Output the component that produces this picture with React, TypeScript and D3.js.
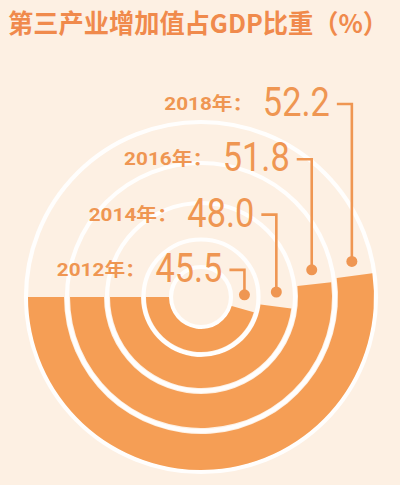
import React from 'react';
import * as d3 from 'd3';

// Share of the tertiary industry in GDP (%)
const YEARS = ['2012', '2014', '2016', '2018'];
const SHARES = [45.5, 48.0, 51.8, 52.2];
const TITLE = '第三产业增加值占GDP比重（%）';

const W = 400;
const H = 485;
const CX = 201;
const CY = 297;
// ring bands, innermost first
const RING_INNER = [32, 60, 97, 137];
const RING_OUTER = [55, 91, 131, 173];

const BG = '#FDF0E3';
const ORANGE = '#F59E55';
const TEXT = '#EF9652';
const TITLE_COLOR = '#F08A4C';

const angle = d3.scaleLinear().domain([0, 100]).range([0, 2 * Math.PI]);
const START = (3 * Math.PI) / 2; // 9 o'clock, sweeping counter-clockwise through the bottom

export default function App() {
  const arcGen = d3.arc<any>();
  const gapRadii = [
    RING_INNER[0] - 2,
    ...RING_INNER.slice(1).map((r, i) => (r + RING_OUTER[i]) / 2),
    RING_OUTER[3] + 2,
  ];

  return (
    <div style={{ position: 'fixed', left: 0, top: 0, width: W, height: H }}>
      <svg width={W} height={H} style={{ display: 'block' }}>
        <rect width={W} height={H} fill={BG} />
        <text
          x={8}
          y={33}
          fill={TITLE_COLOR}
          fontFamily="'Noto Sans CJK SC', sans-serif"
          fontWeight={700}
          fontSize={26}
          textLength={380}
          lengthAdjust="spacingAndGlyphs"
        >
          {TITLE}
        </text>

        {/* white guide circles between the rings */}
        {gapRadii.map((r, i) => (
          <circle key={i} cx={CX} cy={CY} r={r} fill="none" stroke="#FFFFFF" strokeWidth={4.2} strokeOpacity={0.92} />
        ))}

        {SHARES.map((v, i) => {
          const d = arcGen({
            innerRadius: RING_INNER[i],
            outerRadius: RING_OUTER[i],
            startAngle: START,
            endAngle: START - angle(v),
          });
          return <path key={YEARS[i]} d={d || ''} transform={`translate(${CX},${CY})`} fill={ORANGE} />;
        })}

        {SHARES.map((v, i) => {
          const rMid = (RING_INNER[i] + RING_OUTER[i]) / 2;
          const a = START - angle(v) - 14.5 / rMid;
          const dx = CX + rMid * Math.sin(a);
          const dy = CY - rMid * Math.cos(a);
          const lineY = 104 + (SHARES.length - 1 - i) * 55.3;
          const numRight = dx - 22;
          const numW = 67;
          const numLeft = numRight - numW;
          return (
            <g key={'lab' + YEARS[i]}>
              <path
                d={`M${dx - 15},${lineY} H${dx} V${dy}`}
                fill="none"
                stroke={TEXT}
                strokeWidth={2.6}
              />
              <circle cx={dx} cy={dy} r={5.5} fill={TEXT} />
              <text
                x={numLeft}
                y={lineY + 12}
                fill={TEXT}
                fontFamily="Roboto, sans-serif"
                fontWeight={400}
                fontSize={40}
                textLength={numW}
                lengthAdjust="spacingAndGlyphs"
              >
                {v.toFixed(1)}
              </text>
              <text
                x={numLeft - 9.6}
                y={lineY + 6}
                fill={TEXT}
                textAnchor="end"
                fontFamily="Roboto, 'Noto Sans CJK SC', sans-serif"
                fontWeight={700}
                fontSize={18}
                textLength={89}
                lengthAdjust="spacingAndGlyphs"
              >
                {YEARS[i] + '年：'}
              </text>
            </g>
          );
        })}
      </svg>
    </div>
  );
}
